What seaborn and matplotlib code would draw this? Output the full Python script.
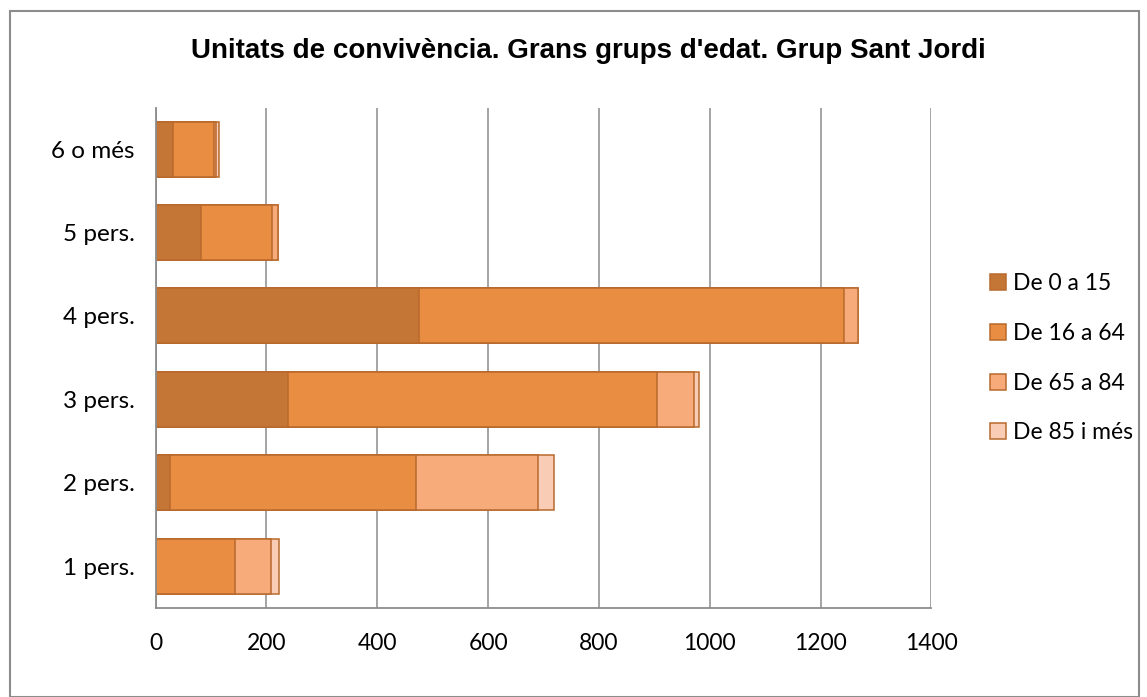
import numpy as np
import matplotlib
matplotlib.use("Agg")
import matplotlib.pyplot as plt
from matplotlib.patches import Patch, Rectangle
import pandas as pd
import seaborn as sns

# categories, top of chart first
cats = ["6 o més", "5 pers.", "4 pers.", "3 pers.", "2 pers.", "1 pers."]
age_groups = ["De 0 a 15", "De 16 a 64", "De 65 a 84", "De 85 i més"]
g_0_15 = [32, 81, 475, 239, 26, 0]
g_16_64 = [73, 129, 767, 665, 444, 144]
g_65_84 = [4, 10, 25, 68, 220, 65]
g_85 = [5, 0, 0, 9, 28, 13]
xticks = [0, 200, 400, 600, 800, 1000, 1200, 1400]

colors = ["#C47636", "#E88D41", "#F7AB7A", "#F9CCB5"]
edge = "#B9692C"

sns.set_style("white")
plt.rcParams['font.family'] = ['Lato', 'DejaVu Sans']
plt.rcParams['text.color'] = 'black'

df = pd.DataFrame({"cat": cats, age_groups[0]: g_0_15, age_groups[1]: g_16_64,
                   age_groups[2]: g_65_84, age_groups[3]: g_85})
cum = df[age_groups].cumsum(axis=1)

fig = plt.figure(figsize=(11.47, 6.97), dpi=100)
ax = fig.add_axes([0.1357, 0.1281, 0.6764, 0.7175])

# draw totals first, then overlay the shorter cumulative sums
for i in range(len(age_groups) - 1, -1, -1):
    sns.barplot(x=cum[age_groups[i]], y=df["cat"], order=cats, orient="h",
                color=colors[i], saturation=1, width=0.66,
                edgecolor=edge, linewidth=1.1, ax=ax)

ax.set_xlim(0, 1400)
ax.set_xticks(xticks)
ax.set_xlabel("")
ax.set_ylabel("")
ax.grid(axis="x", color="#8c8c8c", linewidth=1.1)
ax.set_axisbelow(True)
for s in ["top", "right"]:
    ax.spines[s].set_visible(False)
for s in ["left", "bottom"]:
    ax.spines[s].set_color("#8c8c8c")
    ax.spines[s].set_linewidth(1.3)
ax.tick_params(axis="both", length=0, labelsize=16.5, colors="black")
ax.tick_params(axis="y", labelsize=17.5, pad=15)
ax.tick_params(axis="x", pad=18)

fig.text(0.5126, 0.927, "Unitats de convivència. Grans grups d'edat. Grup Sant Jordi",
         ha="center", va="center", fontsize=20, fontweight="bold", color="black",
         family=["Liberation Sans", "DejaVu Sans"])

handles = [Patch(facecolor=c, edgecolor=edge, linewidth=1.1) for c in colors]
fig.legend(handles, age_groups, loc="center left", bbox_to_anchor=(0.855, 0.486),
           frameon=False, fontsize=16.5, handlelength=0.7, handleheight=0.7,
           handletextpad=0.3, labelspacing=1.25, borderaxespad=0)

fig.patches.append(Rectangle((0.0087, 0.0), 0.9843, 0.9842, transform=fig.transFigure,
                             fill=False, edgecolor="#8c8c8c", linewidth=1.5))

fig.savefig("out.png", dpi=100)
